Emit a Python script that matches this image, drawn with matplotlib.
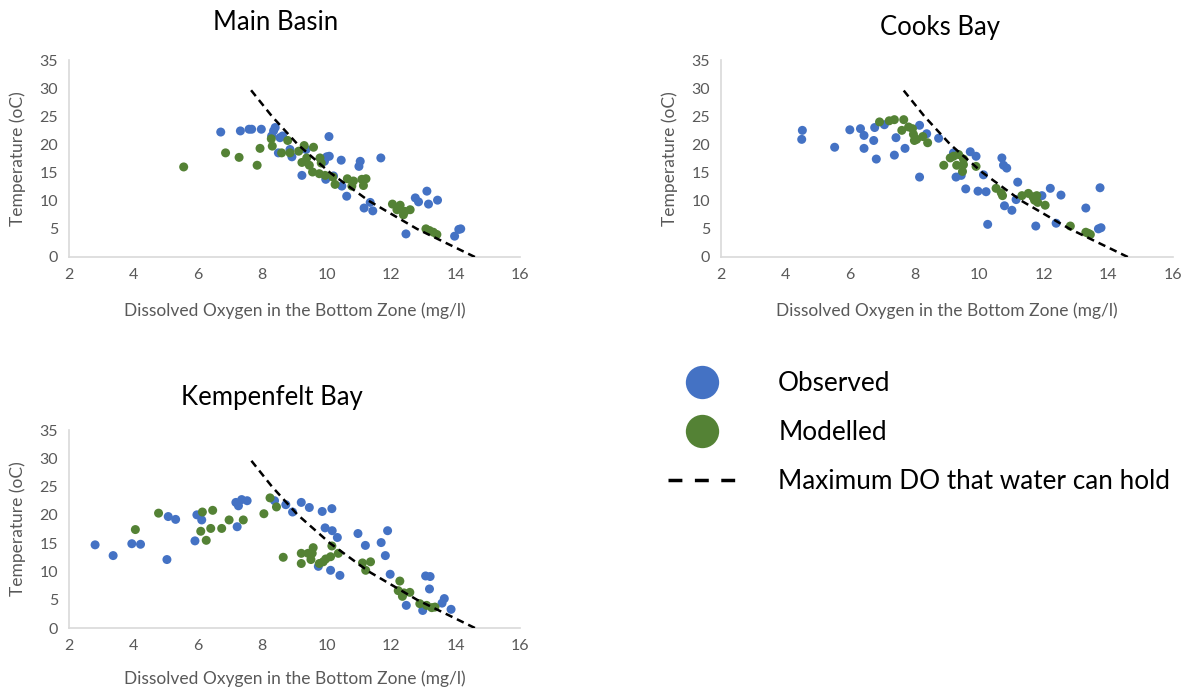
import matplotlib.pyplot as plt
from matplotlib.lines import Line2D

plt.rcParams['font.family'] = ['Lato', 'DejaVu Sans']

BLUE = '#4472C4'
GREEN = '#548235'
GREY = '#595959'

# saturation curve (max DO)
sat_temp = [0, 5, 10, 15, 20, 25, 30]
sat_do = [14.6, 12.8, 11.3, 10.1, 9.1, 8.3, 7.6]

# Main Basin
main_obs_do = [6.71, 7.32, 7.59, 7.67, 7.97, 8.35, 8.40, 8.29, 8.55, 8.63, 8.50, 8.86, 8.92, 9.23, 9.36,
               10.07, 10.00, 10.08, 9.93, 10.45, 10.21, 9.97, 10.47, 10.62, 11.04, 11.00, 11.68, 11.35,
               11.16, 11.43, 12.46, 12.75, 12.85, 13.11, 13.16, 13.44, 13.97, 14.10, 14.16]
main_obs_t = [22.2, 22.4, 22.7, 22.7, 22.7, 22.4, 23.0, 21.5, 21.2, 21.5, 18.5, 19.1, 17.8, 14.5, 19.1,
              21.4, 17.8, 17.9, 17.0, 17.2, 14.4, 13.8, 12.6, 10.8, 17.0, 16.1, 17.6, 9.7,
              8.7, 8.2, 4.1, 10.5, 9.8, 11.7, 9.4, 10.1, 3.7, 4.9, 5.0]
main_mod_do = [5.56, 6.86, 7.28, 7.93, 7.84, 8.28, 8.31, 8.79, 8.60, 8.86, 9.13, 9.30, 9.59, 9.38, 9.23,
               9.46, 9.79, 9.83, 9.56, 9.77, 9.95, 10.19, 10.26, 10.64, 10.83, 10.78, 11.09, 11.22, 11.14,
               12.04, 12.28, 12.18, 12.43, 12.59, 12.38, 13.08, 13.19, 13.31, 13.42]
main_mod_t = [16.0, 18.5, 17.7, 19.3, 16.3, 21.0, 19.7, 20.7, 18.5, 18.5, 18.8, 19.8, 19.5, 17.6, 16.8,
              16.3, 17.6, 16.7, 15.1, 14.8, 14.5, 14.2, 12.9, 13.9, 13.5, 12.6, 13.8, 13.9, 12.7,
              9.4, 9.2, 8.4, 8.1, 8.4, 7.5, 5.0, 4.7, 4.4, 4.0]

# Cooks Bay
cooks_obs_do = [4.52, 4.50, 5.52, 5.99, 6.32, 6.43, 6.43, 6.76, 6.73, 6.81, 7.06, 7.42, 7.37, 7.70, 8.15,
                8.37, 8.15, 8.74, 9.20, 9.72, 9.90, 9.28, 9.44, 9.58, 10.13, 9.96, 10.21, 10.26, 10.70,
                10.75, 10.85, 11.19, 11.14, 10.78, 11.01, 12.20, 12.53, 11.94, 11.75, 12.38, 13.30,
                13.74, 13.69, 13.77]
cooks_obs_t = [22.5, 20.9, 19.5, 22.6, 22.8, 21.6, 19.3, 23.0, 20.7, 17.4, 23.5, 21.2, 18.1, 19.3, 23.4,
               21.9, 14.2, 21.1, 18.5, 18.7, 17.9, 14.2, 14.5, 12.1, 14.6, 11.7, 11.6, 5.8, 17.6,
               16.3, 15.8, 13.3, 10.2, 9.1, 8.3, 12.2, 11.0, 10.9, 5.5, 6.0, 8.7,
               12.3, 5.0, 5.2]
cooks_mod_do = [6.91, 7.21, 7.37, 7.66, 7.60, 7.81, 7.93, 7.96, 8.06, 7.99, 8.25, 8.40, 8.90, 9.10, 9.20,
                9.36, 9.51, 9.30, 9.51, 9.48, 9.90, 10.52, 10.68, 10.72, 11.32, 11.52, 11.66, 11.78,
                11.71, 11.81, 12.04, 12.82, 13.30, 13.38, 13.44]
cooks_mod_t = [24.0, 24.2, 24.4, 24.4, 22.5, 23.1, 22.8, 21.8, 20.9, 20.7, 21.4, 20.3, 16.3, 17.6, 17.9,
               18.2, 17.4, 16.3, 16.4, 15.2, 16.1, 12.2, 11.4, 10.9, 10.9, 11.3, 10.7, 10.9,
               10.1, 9.7, 9.2, 5.5, 4.4, 4.2, 4.0]

# Kempenfelt Bay
kemp_obs_do = [2.81, 3.37, 3.95, 4.22, 5.04, 5.08, 5.31, 5.97, 6.12, 5.91, 7.18, 7.26, 7.36, 7.53, 7.22,
               8.38, 8.73, 8.94, 9.21, 9.46, 9.86, 10.16, 9.95, 10.17, 10.33, 9.74, 10.12, 10.41,
               10.97, 11.20, 11.69, 11.89, 11.82, 11.97, 12.47, 13.07, 13.21, 13.19, 12.98, 13.58,
               13.65, 13.86]
kemp_obs_t = [14.7, 12.8, 14.9, 14.8, 12.1, 19.7, 19.2, 20.0, 19.1, 15.4, 22.2, 21.6, 22.7, 22.5, 17.9,
              22.5, 21.8, 20.5, 22.2, 21.3, 20.6, 21.1, 17.7, 17.2, 16.0, 10.9, 10.2, 9.3,
              16.7, 14.6, 15.1, 17.2, 12.8, 9.5, 4.0, 9.2, 9.1, 6.9, 3.1, 4.4,
              5.2, 3.3]
kemp_mod_do = [4.06, 4.78, 6.14, 6.46, 6.09, 6.40, 6.26, 6.74, 6.97, 7.41, 8.05, 8.24, 8.44, 8.65, 9.21,
               9.21, 9.42, 9.58, 9.55, 9.51, 9.77, 9.89, 9.97, 10.12, 10.16, 10.36, 11.11, 11.36,
               11.21, 12.27, 12.22, 12.40, 12.58, 12.35, 12.89, 13.10, 13.26, 13.36]
kemp_mod_t = [17.4, 20.3, 20.5, 20.8, 17.1, 17.6, 15.5, 17.6, 19.1, 19.1, 20.2, 23.0, 21.4, 12.5, 13.2,
              11.4, 13.2, 14.2, 13.2, 12.1, 11.4, 11.7, 12.2, 12.6, 14.5, 13.2, 11.5, 11.7,
              10.2, 8.3, 6.6, 6.2, 6.3, 5.6, 4.3, 4.0, 3.6, 3.7]

W, H = 1187, 688
fig = plt.figure(figsize=(W / 100, H / 100), dpi=100)


def px_rect(x0, y0, x1, y1):
    return [x0 / W, 1 - y1 / H, (x1 - x0) / W, (y1 - y0) / H]


panels = [
    ('Main Basin', main_obs_do, main_obs_t, main_mod_do, main_mod_t, (69, 60, 520, 257), (276, 22), 311),
    ('Cooks Bay', cooks_obs_do, cooks_obs_t, cooks_mod_do, cooks_mod_t, (721, 60, 1173, 257), (940, 27), 311),
    ('Kempenfelt Bay', kemp_obs_do, kemp_obs_t, kemp_mod_do, kemp_mod_t, (69, 430, 520, 628), (272, 398), 679),
]

for title, odo, ot, mdo, mt, box, tpos, xl_y in panels:
    ax = fig.add_axes(px_rect(*box))
    ax.scatter(odo, ot, s=42, color=BLUE, edgecolors='none', zorder=3)
    ax.scatter(mdo, mt, s=42, color=GREEN, edgecolors='none', zorder=4)
    ax.plot(sat_do, sat_temp, color='black', lw=1.8, ls=(0, (3, 2)), zorder=5)
    ax.set_xlim(2, 16)
    ax.set_ylim(0, 35)
    ax.set_xticks(range(2, 17, 2))
    ax.set_yticks(range(0, 36, 5))
    ax.tick_params(length=0, labelsize=11.5, colors=GREY, pad=8)
    for s in ['top', 'right']:
        ax.spines[s].set_visible(False)
    for s in ['left', 'bottom']:
        ax.spines[s].set_color('#D9D9D9')
        ax.spines[s].set_linewidth(1.2)
    fig.text(tpos[0] / W, 1 - tpos[1] / H, title, fontsize=18.5, ha='center', va='center', color='black')
    cx = (box[0] + box[2]) / 2
    fig.text(cx / W, 1 - xl_y / H, 'Dissolved Oxygen in the Bottom Zone (mg/l)',
             fontsize=12.5, ha='center', va='center', color=GREY)
    cy = (box[1] + box[3]) / 2
    fig.text((box[0] - 51) / W, 1 - cy / H, 'Temperature (oC)', fontsize=12.5, rotation=90,
             ha='center', va='center', color=GREY)

handles = [
    Line2D([], [], ls='none', marker='o', ms=24, color=BLUE, mec='none'),
    Line2D([], [], ls='none', marker='o', ms=24, color=GREEN, mec='none'),
    Line2D([], [], color='black', lw=2.5, ls=(0, (4.0, 3.6))),
]
labels = ['Observed', 'Modelled', 'Maximum DO that water can hold']
fig.legend(handles, labels, loc='upper left', bbox_to_anchor=(668 / W, 1 - 371 / H),
           frameon=False, fontsize=18.8, handlelength=2.62, handletextpad=1.6, labelspacing=0.92,
           borderpad=0, borderaxespad=0)

fig.savefig('out.png', dpi=100)
